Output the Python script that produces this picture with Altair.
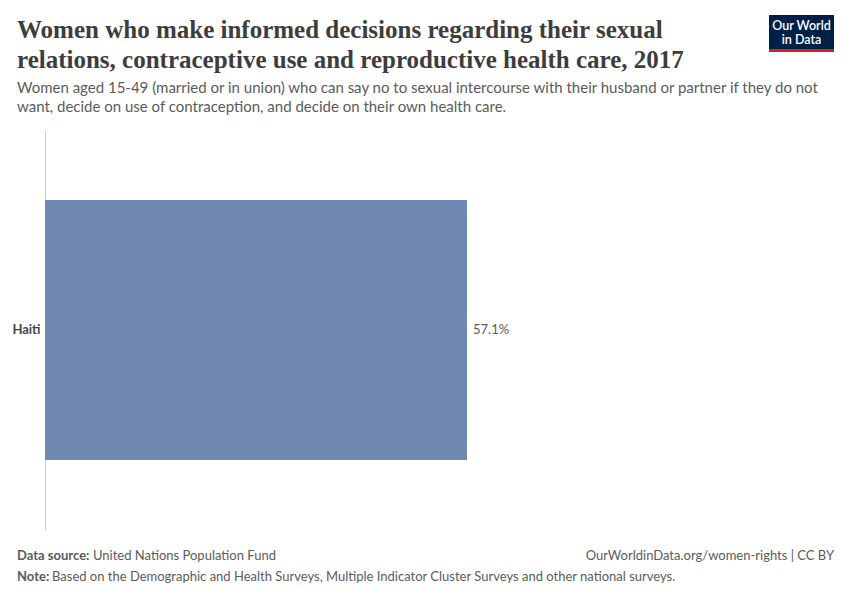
import altair as alt
import pandas as pd

countries = ["Haiti"]
values = [57.1]
value_labels = ["57.1%"]

title_lines = ["Women who make informed decisions regarding their sexual",
               "relations, contraceptive use and reproductive health care, 2017"]
subtitle_lines = ["Women aged 15-49 (married or in union) who can say no to sexual intercourse with their husband or partner if they do not",
                  "want, decide on use of contraception, and decide on their own health care."]
source_bold = "Data source:"
source_text = "United Nations Population Fund"
note_bold = "Note:"
note_text = "Based on the Demographic and Health Surveys, Multiple Indicator Cluster Surveys and other national surveys."
url_text = "OurWorldinData.org/women-rights | CC BY"
logo_lines = ["Our World", "in Data"]

df = pd.DataFrame({"country": countries, "value": values, "label": value_labels})

# plot origin in page pixels: (45, 130)
OX, OY = 45, 130

def txt(s, px, py, size=13, color="#5b5b5b", weight="normal", font="Lato", align="left", baseline="middle"):
    return alt.Chart(pd.DataFrame({"t": [s]})).mark_text(
        font=font, fontSize=size, color=color, fontWeight=weight, align=align, baseline=baseline
    ).encode(text="t:N", x=alt.value(px - OX), y=alt.value(py - OY))

yenc = alt.Y("country:N", title=None,
             scale=alt.Scale(paddingInner=0.35, paddingOuter=0.175),
             axis=alt.Axis(domainColor="#cccccc", ticks=False, labelFont="Lato", labelFontSize=13,
                           labelFontWeight="bold", labelColor="#444444", labelPadding=5))
xenc = alt.X("value:Q", title=None, scale=alt.Scale(domain=[0, 57.1], nice=False), axis=None)

bars = alt.Chart(df).mark_bar(color="#6e88b1").encode(x=xenc, y=yenc)
labels = alt.Chart(df).mark_text(align="left", dx=6, font="Lato", fontSize=13, color="#5b5b5b").encode(
    x=xenc, y=alt.Y("country:N"), text="label:N")

layers = [bars, labels]
layers.append(txt(title_lines[0], 17, 30, size=25, color="#3d3d3d", font="Liberation Serif", weight="bold"))
layers.append(txt(title_lines[1], 17, 60, size=25, color="#3d3d3d", font="Liberation Serif", weight="bold"))
layers.append(txt(subtitle_lines[0], 17, 88, size=15))
layers.append(txt(subtitle_lines[1], 17, 107, size=15))
layers.append(txt(source_bold, 17, 556, size=13, weight="bold"))
layers.append(txt(source_text, 93, 556, size=13))
layers.append(txt(note_bold, 17, 577, size=13, weight="bold"))
layers.append(txt(note_text, 52, 577, size=13))
layers.append(txt(url_text, 834, 556, size=13, align="right"))

logo = alt.Chart(pd.DataFrame({"a": [0]})).mark_rect(color="#002147").encode(
    x=alt.value(769 - OX), x2=alt.value(834 - OX), y=alt.value(15 - OY), y2=alt.value(49 - OY))
logo_red = alt.Chart(pd.DataFrame({"a": [0]})).mark_rect(color="#ce261e").encode(
    x=alt.value(769 - OX), x2=alt.value(834 - OX), y=alt.value(49 - OY), y2=alt.value(52 - OY))
layers += [logo, logo_red]
layers.append(txt(logo_lines[0], 801.5, 26, size=12.5, color="white", weight=600, align="center"))
layers.append(txt(logo_lines[1], 801.5, 40, size=12.5, color="white", weight=600, align="center"))

chart = alt.layer(*layers).properties(
    width=422, height=400,
    autosize=alt.AutoSizeParams(type="none"),
    padding={"left": OX - 8, "top": OY - 8, "right": 834 - 422 - (OX - 8), "bottom": 584 - 400 - (OY - 8)},
    background="white",
).configure_view(stroke=None)

chart.save("out.html", embed_options={"renderer": "svg", "actions": False})
